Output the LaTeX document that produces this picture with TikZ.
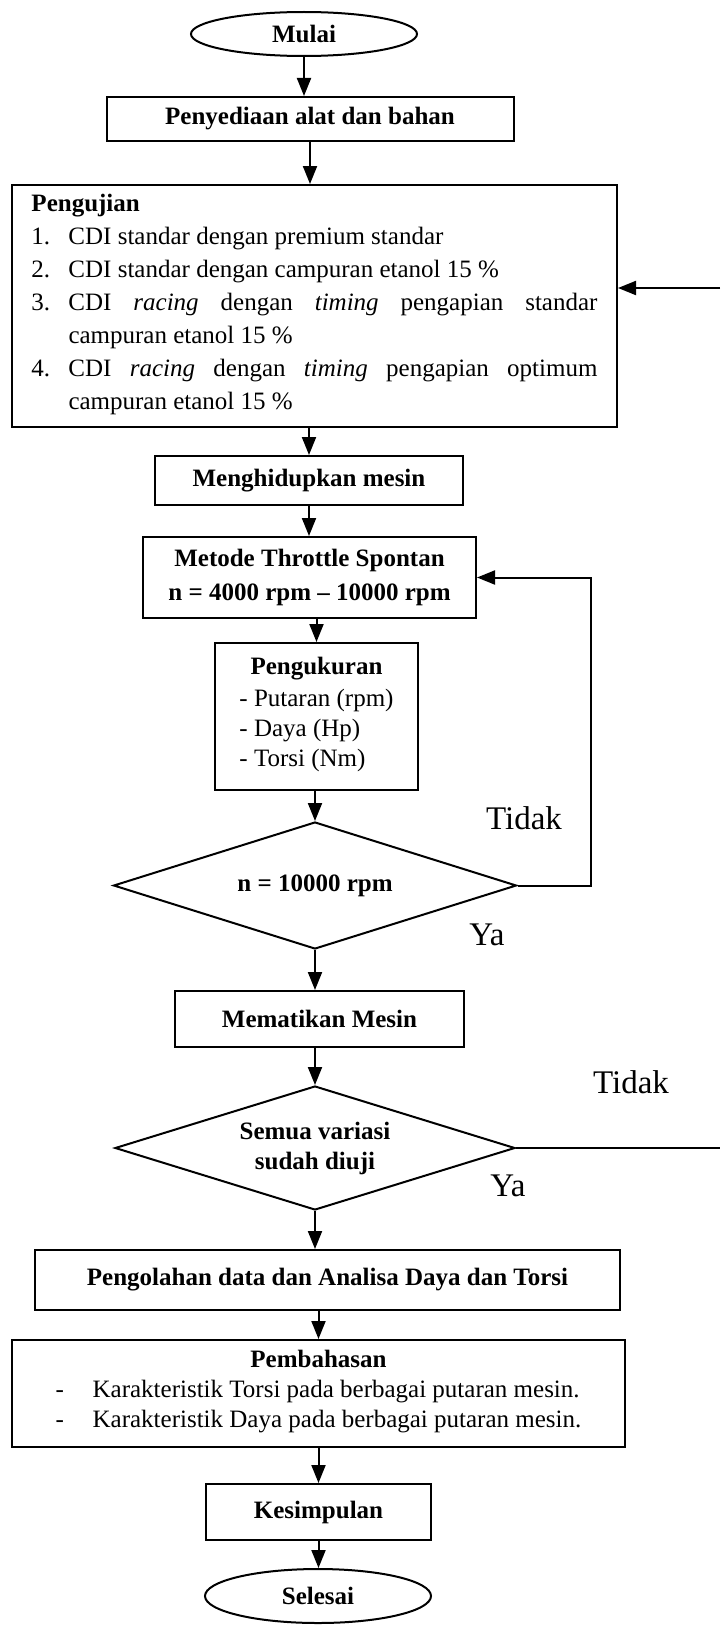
\documentclass[tikz,border=0pt]{standalone}
\usepackage{fontspec}
\setmainfont{Liberation Serif}
\usetikzlibrary{shapes.geometric,arrows.meta}

\newcommand{\butir}[2]{\par\noindent\hangindent=18.5pt\hangafter=1\makebox[18.5pt][l]{#1}#2}

\begin{document}
\begin{tikzpicture}[x=0.5pt,y=-0.5pt,line width=1pt,>={Triangle[length=9pt,width=7pt]},
  every node/.style={font=\fontsize{12.5}{15}\selectfont,inner sep=0pt},
  kotak/.style={draw,rectangle,align=center,font=\fontsize{12.5}{15}\selectfont\bfseries},
  awal/.style={draw,ellipse,font=\fontsize{12.5}{15}\selectfont\bfseries},
  cek/.style={draw,diamond,align=center,font=\fontsize{12.5}{15}\selectfont\bfseries},
  ket/.style={font=\fontsize{16.5}{18}\selectfont}]
\useasboundingbox (0,0) rectangle (720,1632);

\node[awal,minimum width=113pt,minimum height=22pt] (mulai) at (304,34) {Mulai};
\node[kotak,minimum width=203.5pt,minimum height=22pt] (alat) at (310,119) {Penyediaan alat dan bahan};
\node[draw,rectangle,minimum width=302.5pt,minimum height=121pt,inner xsep=9.75pt] (uji) at (314.5,306) {%
  \begin{minipage}[c][121pt][t]{283pt}
  \fontsize{12.5}{16.5}\selectfont\hyphenpenalty=10000
  \rule{0pt}{13pt}\textbf{Pengujian}
  \butir{1.}{CDI standar dengan premium standar}
  \butir{2.}{CDI standar dengan campuran etanol 15 \%}
  \butir{3.}{CDI \textit{racing} dengan \textit{timing} pengapian standar\linebreak campuran etanol 15 \%}
  \butir{4.}{CDI \textit{racing} dengan \textit{timing} pengapian optimum\linebreak campuran etanol 15 \%}
  \end{minipage}};
\node[kotak,minimum width=154pt,minimum height=24.5pt] (hidup) at (309,480.5) {Menghidupkan mesin};
\node[kotak,minimum width=166.5pt,minimum height=40.5pt] (metode) at (309.5,577.5) {Metode Throttle Spontan\\[2pt]n = 4000 rpm -- 10000 rpm};
\node[kotak,minimum width=101.5pt,minimum height=73.5pt] (ukur) at (316.5,716.5) {Pengukuran\\[1pt]
  \mdseries\begin{tabular}[t]{@{}l@{}}- Putaran (rpm)\\- Daya (Hp)\\- Torsi (Nm)\end{tabular}};
\node[cek,aspect=3.15,minimum width=201.5pt,minimum height=63.5pt] (cek1) at (315,885.5) {n = 10000 rpm};
\node[kotak,minimum width=144.5pt,minimum height=28pt] (mati) at (319.5,1019) {Mematikan Mesin};
\node[cek,aspect=3.2,minimum width=200pt,minimum height=62pt] (cek2) at (315,1148) {Semua variasi\\sudah diuji};
\node[kotak,minimum width=292.5pt,minimum height=30pt] (olah) at (327.5,1280) {Pengolahan data dan Analisa Daya dan Torsi};
\node[kotak,minimum width=306.5pt,minimum height=53.5pt] (bahas) at (318.5,1393.5) {Pembahasan\\
  \mdseries\begin{tabular}[t]{@{}l@{}}\makebox[18.5pt][l]{-}Karakteristik Torsi pada berbagai putaran mesin.\\
  \makebox[18.5pt][l]{-}Karakteristik Daya pada berbagai putaran mesin.\end{tabular}};
\node[kotak,minimum width=112.5pt,minimum height=28pt] (simpul) at (318.5,1512) {Kesimpulan};
\node[awal,minimum width=113pt,minimum height=27pt] (selesai) at (318,1596) {Selesai};

\node[ket] (tidak1) at (524,818) {Tidak};
\node[ket] (ya1) at (487,935) {Ya};
\node[ket] (tidak2) at (631,1082) {Tidak};
\node[ket] (ya2) at (508,1186) {Ya};
\coordinate (masuk) at (720,288);

\draw[->] (mulai.south) -- (mulai.south |- alat.north);
\draw[->] (alat.south) -- (alat.south |- uji.north);
\draw[->] (uji.south -| hidup) -- (hidup.north);
\draw[->] (hidup.south) -- (hidup.south |- metode.north);
\draw[->] (metode.south -| ukur) -- (ukur.north);
\draw[->] (ukur.south -| cek1) -- (cek1.north);
\draw[->] (cek1.south) -- (cek1.south |- mati.north);
\draw[->] (mati.south -| cek2) -- (cek2.north);
\draw[->] (cek2.south) -- (cek2.south |- olah.north);
\draw[->] (olah.south -| bahas) -- (bahas.north);
\draw[->] (bahas.south) -- (bahas.south |- simpul.north);
\draw[->] (simpul.south) -- (simpul.south |- selesai.north);
\draw[->] (cek1.east) -- ++(73.5,0) |- (metode.east);
\draw (cek2.east) -- (cek2.east -| masuk);
\draw[->] (masuk) -- (masuk -| uji.east);
\end{tikzpicture}
\end{document}
